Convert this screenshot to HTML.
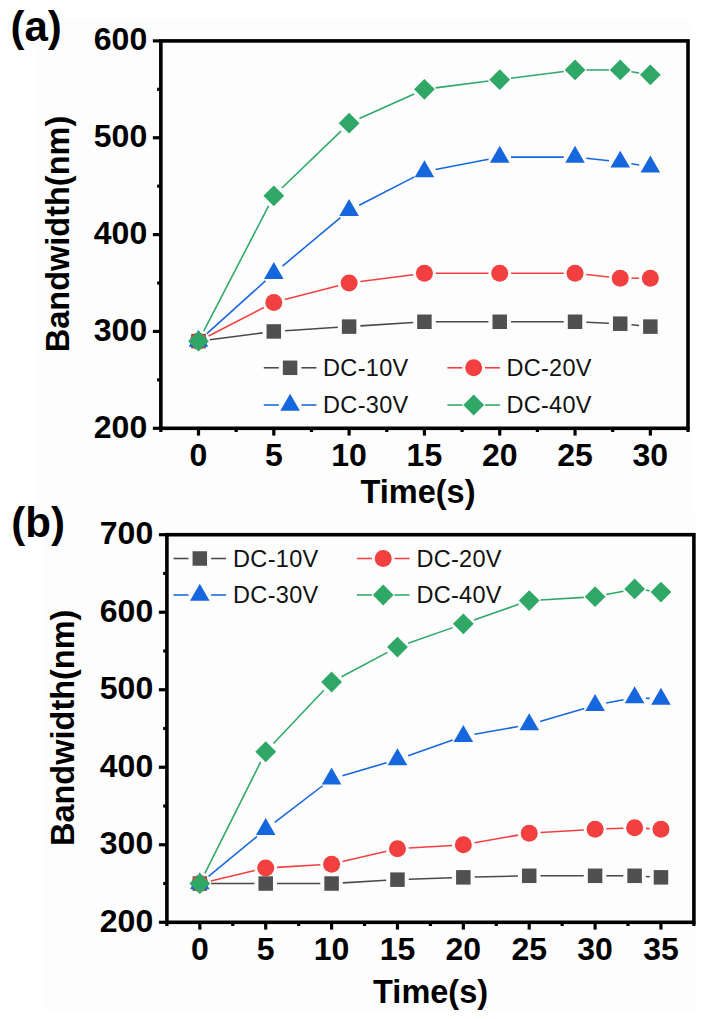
<!DOCTYPE html>
<html><head><meta charset="utf-8"><style>
html,body{margin:0;padding:0;background:#fff;}
body{width:709px;height:1019px;overflow:hidden;}
svg{display:block;}
text{font-family:"Liberation Sans",sans-serif;fill:#000;}
.tk{font-size:32px;font-weight:bold;}
.tt{font-size:32.5px;font-weight:bold;}
.pl{font-size:42px;font-weight:bold;}
.lg{font-size:23.5px;fill:#111;letter-spacing:0.3px;}
</style></head><body>
<svg width="709" height="1019" viewBox="0 0 709 1019">
<rect x="0" y="0" width="709" height="1019" fill="#ffffff"/>
<rect x="36" y="19" width="654" height="493" fill="#fdfdfd"/>
<rect x="43" y="512" width="653" height="499.5" fill="#fdfdfd"/>
<line x1="209.71" y1="339.69" x2="262.60" y2="332.89" stroke="#4a4a4a" stroke-width="1.55"/>
<line x1="285.09" y1="330.72" x2="337.84" y2="327.33" stroke="#4a4a4a" stroke-width="1.55"/>
<line x1="360.39" y1="325.88" x2="413.15" y2="322.49" stroke="#4a4a4a" stroke-width="1.55"/>
<line x1="435.72" y1="321.76" x2="488.43" y2="321.76" stroke="#4a4a4a" stroke-width="1.55"/>
<line x1="511.03" y1="321.76" x2="563.74" y2="321.76" stroke="#4a4a4a" stroke-width="1.55"/>
<line x1="586.33" y1="322.25" x2="608.93" y2="323.22" stroke="#4a4a4a" stroke-width="1.55"/>
<line x1="631.47" y1="324.79" x2="639.10" y2="325.52" stroke="#4a4a4a" stroke-width="1.55"/>
<line x1="208.55" y1="335.97" x2="263.76" y2="307.56" stroke="#f24040" stroke-width="1.55"/>
<line x1="284.75" y1="299.58" x2="338.17" y2="285.84" stroke="#f24040" stroke-width="1.55"/>
<line x1="360.33" y1="281.58" x2="413.22" y2="274.78" stroke="#f24040" stroke-width="1.55"/>
<line x1="435.72" y1="273.34" x2="488.43" y2="273.34" stroke="#f24040" stroke-width="1.55"/>
<line x1="511.03" y1="273.34" x2="563.74" y2="273.34" stroke="#f24040" stroke-width="1.55"/>
<line x1="586.27" y1="274.54" x2="608.99" y2="276.98" stroke="#f24040" stroke-width="1.55"/>
<line x1="631.52" y1="278.18" x2="639.05" y2="278.18" stroke="#f24040" stroke-width="1.55"/>
<line x1="206.90" y1="333.57" x2="265.41" y2="280.90" stroke="#1666dd" stroke-width="1.55"/>
<line x1="282.48" y1="266.09" x2="340.45" y2="217.63" stroke="#1666dd" stroke-width="1.55"/>
<line x1="359.17" y1="205.22" x2="414.38" y2="176.82" stroke="#1666dd" stroke-width="1.55"/>
<line x1="435.52" y1="169.51" x2="488.64" y2="159.26" stroke="#1666dd" stroke-width="1.55"/>
<line x1="511.03" y1="157.12" x2="563.74" y2="157.12" stroke="#1666dd" stroke-width="1.55"/>
<line x1="586.27" y1="158.32" x2="608.99" y2="160.76" stroke="#1666dd" stroke-width="1.55"/>
<line x1="631.38" y1="163.76" x2="639.19" y2="165.01" stroke="#1666dd" stroke-width="1.55"/>
<line x1="203.70" y1="331.10" x2="268.61" y2="205.89" stroke="#2fa867" stroke-width="1.55"/>
<line x1="281.94" y1="188.02" x2="340.98" y2="131.07" stroke="#2fa867" stroke-width="1.55"/>
<line x1="359.42" y1="118.58" x2="414.12" y2="93.96" stroke="#2fa867" stroke-width="1.55"/>
<line x1="435.63" y1="87.88" x2="488.52" y2="81.08" stroke="#2fa867" stroke-width="1.55"/>
<line x1="510.94" y1="78.20" x2="563.83" y2="71.40" stroke="#2fa867" stroke-width="1.55"/>
<line x1="586.34" y1="69.95" x2="608.92" y2="69.95" stroke="#2fa867" stroke-width="1.55"/>
<line x1="631.38" y1="71.75" x2="639.19" y2="73.00" stroke="#2fa867" stroke-width="1.55"/>
<rect x="191.25" y="333.88" width="14.50" height="14.50" fill="#505050"/>
<rect x="266.56" y="324.20" width="14.50" height="14.50" fill="#505050"/>
<rect x="341.87" y="319.36" width="14.50" height="14.50" fill="#505050"/>
<rect x="417.17" y="314.51" width="14.50" height="14.50" fill="#505050"/>
<rect x="492.48" y="314.51" width="14.50" height="14.50" fill="#505050"/>
<rect x="567.79" y="314.51" width="14.50" height="14.50" fill="#505050"/>
<rect x="612.97" y="316.45" width="14.50" height="14.50" fill="#505050"/>
<rect x="643.10" y="319.36" width="14.50" height="14.50" fill="#505050"/>
<circle cx="198.50" cy="341.13" r="8.50" fill="#f24040"/>
<circle cx="273.81" cy="302.39" r="8.50" fill="#f24040"/>
<circle cx="349.12" cy="283.02" r="8.50" fill="#f24040"/>
<circle cx="424.42" cy="273.34" r="8.50" fill="#f24040"/>
<circle cx="499.73" cy="273.34" r="8.50" fill="#f24040"/>
<circle cx="575.04" cy="273.34" r="8.50" fill="#f24040"/>
<circle cx="620.22" cy="278.18" r="8.50" fill="#f24040"/>
<circle cx="650.35" cy="278.18" r="8.50" fill="#f24040"/>
<polygon points="198.50,329.82 208.30,346.79 188.70,346.79" fill="#1666dd"/>
<polygon points="273.81,262.02 283.61,279.00 264.01,279.00" fill="#1666dd"/>
<polygon points="349.12,199.07 358.92,216.05 339.32,216.05" fill="#1666dd"/>
<polygon points="424.42,160.33 434.22,177.31 414.62,177.31" fill="#1666dd"/>
<polygon points="499.73,145.80 509.53,162.78 489.93,162.78" fill="#1666dd"/>
<polygon points="575.04,145.80 584.84,162.78 565.24,162.78" fill="#1666dd"/>
<polygon points="620.22,150.65 630.02,167.62 610.42,167.62" fill="#1666dd"/>
<polygon points="650.35,155.49 660.15,172.46 640.55,172.46" fill="#1666dd"/>
<polygon points="198.50,330.74 208.90,341.13 198.50,351.53 188.10,341.13" fill="#2fa867"/>
<polygon points="273.81,185.46 284.21,195.86 273.81,206.26 263.41,195.86" fill="#2fa867"/>
<polygon points="349.12,112.82 359.52,123.22 349.12,133.62 338.72,123.22" fill="#2fa867"/>
<polygon points="424.42,78.92 434.82,89.32 424.42,99.72 414.02,89.32" fill="#2fa867"/>
<polygon points="499.73,69.24 510.13,79.64 499.73,90.04 489.33,79.64" fill="#2fa867"/>
<polygon points="575.04,59.55 585.44,69.95 575.04,80.35 564.64,69.95" fill="#2fa867"/>
<polygon points="620.22,59.55 630.62,69.95 620.22,80.35 609.82,69.95" fill="#2fa867"/>
<polygon points="650.35,64.40 660.75,74.80 650.35,85.20 639.95,74.80" fill="#2fa867"/>
<rect x="160.85" y="40.90" width="527.15" height="387.40" fill="none" stroke="#000" stroke-width="3.6" stroke-linejoin="miter"/>
<line x1="152.85" y1="428.30" x2="160.85" y2="428.30" stroke="#000" stroke-width="3.2"/>
<line x1="157.15" y1="379.88" x2="160.85" y2="379.88" stroke="#000" stroke-width="3.2"/>
<line x1="152.85" y1="331.45" x2="160.85" y2="331.45" stroke="#000" stroke-width="3.2"/>
<line x1="157.15" y1="283.02" x2="160.85" y2="283.02" stroke="#000" stroke-width="3.2"/>
<line x1="152.85" y1="234.60" x2="160.85" y2="234.60" stroke="#000" stroke-width="3.2"/>
<line x1="157.15" y1="186.17" x2="160.85" y2="186.17" stroke="#000" stroke-width="3.2"/>
<line x1="152.85" y1="137.75" x2="160.85" y2="137.75" stroke="#000" stroke-width="3.2"/>
<line x1="157.15" y1="89.32" x2="160.85" y2="89.32" stroke="#000" stroke-width="3.2"/>
<line x1="152.85" y1="40.90" x2="160.85" y2="40.90" stroke="#000" stroke-width="3.2"/>
<line x1="160.85" y1="428.30" x2="160.85" y2="432.00" stroke="#000" stroke-width="3.2"/>
<line x1="198.50" y1="428.30" x2="198.50" y2="435.60" stroke="#000" stroke-width="3.2"/>
<line x1="236.16" y1="428.30" x2="236.16" y2="432.00" stroke="#000" stroke-width="3.2"/>
<line x1="273.81" y1="428.30" x2="273.81" y2="435.60" stroke="#000" stroke-width="3.2"/>
<line x1="311.46" y1="428.30" x2="311.46" y2="432.00" stroke="#000" stroke-width="3.2"/>
<line x1="349.12" y1="428.30" x2="349.12" y2="435.60" stroke="#000" stroke-width="3.2"/>
<line x1="386.77" y1="428.30" x2="386.77" y2="432.00" stroke="#000" stroke-width="3.2"/>
<line x1="424.42" y1="428.30" x2="424.42" y2="435.60" stroke="#000" stroke-width="3.2"/>
<line x1="462.08" y1="428.30" x2="462.08" y2="432.00" stroke="#000" stroke-width="3.2"/>
<line x1="499.73" y1="428.30" x2="499.73" y2="435.60" stroke="#000" stroke-width="3.2"/>
<line x1="537.39" y1="428.30" x2="537.39" y2="432.00" stroke="#000" stroke-width="3.2"/>
<line x1="575.04" y1="428.30" x2="575.04" y2="435.60" stroke="#000" stroke-width="3.2"/>
<line x1="612.69" y1="428.30" x2="612.69" y2="432.00" stroke="#000" stroke-width="3.2"/>
<line x1="650.35" y1="428.30" x2="650.35" y2="435.60" stroke="#000" stroke-width="3.2"/>
<line x1="688.00" y1="428.30" x2="688.00" y2="432.00" stroke="#000" stroke-width="3.2"/>
<text x="147.20" y="437.60" text-anchor="end" class="tk">200</text>
<text x="147.20" y="340.75" text-anchor="end" class="tk">300</text>
<text x="147.20" y="243.90" text-anchor="end" class="tk">400</text>
<text x="147.20" y="147.05" text-anchor="end" class="tk">500</text>
<text x="147.20" y="50.20" text-anchor="end" class="tk">600</text>
<text x="198.50" y="466.20" text-anchor="middle" class="tk">0</text>
<text x="273.81" y="466.20" text-anchor="middle" class="tk">5</text>
<text x="349.12" y="466.20" text-anchor="middle" class="tk">10</text>
<text x="424.42" y="466.20" text-anchor="middle" class="tk">15</text>
<text x="499.73" y="466.20" text-anchor="middle" class="tk">20</text>
<text x="575.04" y="466.20" text-anchor="middle" class="tk">25</text>
<text x="650.35" y="466.20" text-anchor="middle" class="tk">30</text>
<text x="418.00" y="502.60" text-anchor="middle" class="tt">Time(s)</text>
<text transform="translate(68.50,234.00) rotate(-90)" x="0" y="0" text-anchor="middle" class="tt">Bandwidth(nm)</text>
<text x="10.50" y="40.60" class="pl">(a)</text>
<line x1="263.80" y1="367.80" x2="278.80" y2="367.80" stroke="#4a4a4a" stroke-width="1.55"/>
<line x1="301.40" y1="367.80" x2="316.40" y2="367.80" stroke="#4a4a4a" stroke-width="1.55"/>
<rect x="282.85" y="360.55" width="14.50" height="14.50" fill="#505050"/>
<text x="323.10" y="375.80" class="lg">DC-10V</text>
<line x1="447.40" y1="367.80" x2="462.40" y2="367.80" stroke="#f24040" stroke-width="1.55"/>
<line x1="485.00" y1="367.80" x2="500.00" y2="367.80" stroke="#f24040" stroke-width="1.55"/>
<circle cx="473.70" cy="367.80" r="8.50" fill="#f24040"/>
<text x="506.40" y="375.80" class="lg">DC-20V</text>
<line x1="263.80" y1="405.00" x2="278.80" y2="405.00" stroke="#1666dd" stroke-width="1.55"/>
<line x1="301.40" y1="405.00" x2="316.40" y2="405.00" stroke="#1666dd" stroke-width="1.55"/>
<polygon points="290.10,393.68 299.90,410.66 280.30,410.66" fill="#1666dd"/>
<text x="323.10" y="413.00" class="lg">DC-30V</text>
<line x1="447.40" y1="405.00" x2="462.40" y2="405.00" stroke="#2fa867" stroke-width="1.55"/>
<line x1="485.00" y1="405.00" x2="500.00" y2="405.00" stroke="#2fa867" stroke-width="1.55"/>
<polygon points="473.70,394.60 484.10,405.00 473.70,415.40 463.30,405.00" fill="#2fa867"/>
<text x="506.40" y="413.00" class="lg">DC-40V</text>
<line x1="211.14" y1="883.54" x2="254.41" y2="883.54" stroke="#4a4a4a" stroke-width="1.55"/>
<line x1="277.01" y1="883.54" x2="320.29" y2="883.54" stroke="#4a4a4a" stroke-width="1.55"/>
<line x1="342.87" y1="882.88" x2="386.18" y2="880.33" stroke="#4a4a4a" stroke-width="1.55"/>
<line x1="408.76" y1="879.27" x2="452.04" y2="877.74" stroke="#4a4a4a" stroke-width="1.55"/>
<line x1="474.63" y1="877.07" x2="517.92" y2="876.05" stroke="#4a4a4a" stroke-width="1.55"/>
<line x1="540.51" y1="875.79" x2="583.79" y2="875.79" stroke="#4a4a4a" stroke-width="1.55"/>
<line x1="606.39" y1="875.79" x2="623.31" y2="875.79" stroke="#4a4a4a" stroke-width="1.55"/>
<line x1="645.89" y1="876.45" x2="649.68" y2="876.67" stroke="#4a4a4a" stroke-width="1.55"/>
<line x1="210.84" y1="880.95" x2="254.71" y2="870.62" stroke="#f24040" stroke-width="1.55"/>
<line x1="276.99" y1="867.37" x2="320.31" y2="864.82" stroke="#f24040" stroke-width="1.55"/>
<line x1="342.59" y1="861.57" x2="386.46" y2="851.24" stroke="#f24040" stroke-width="1.55"/>
<line x1="408.74" y1="847.99" x2="452.06" y2="845.44" stroke="#f24040" stroke-width="1.55"/>
<line x1="474.47" y1="842.82" x2="518.08" y2="835.12" stroke="#f24040" stroke-width="1.55"/>
<line x1="540.49" y1="832.49" x2="583.81" y2="829.94" stroke="#f24040" stroke-width="1.55"/>
<line x1="606.38" y1="828.83" x2="623.32" y2="828.17" stroke="#f24040" stroke-width="1.55"/>
<line x1="645.89" y1="828.39" x2="649.68" y2="828.61" stroke="#f24040" stroke-width="1.55"/>
<line x1="208.56" y1="876.36" x2="256.99" y2="836.46" stroke="#1666dd" stroke-width="1.55"/>
<line x1="274.69" y1="822.41" x2="322.61" y2="785.75" stroke="#1666dd" stroke-width="1.55"/>
<line x1="342.43" y1="775.70" x2="386.62" y2="762.70" stroke="#1666dd" stroke-width="1.55"/>
<line x1="408.12" y1="755.75" x2="452.68" y2="740.01" stroke="#1666dd" stroke-width="1.55"/>
<line x1="474.47" y1="734.29" x2="518.08" y2="726.59" stroke="#1666dd" stroke-width="1.55"/>
<line x1="540.05" y1="721.43" x2="584.25" y2="708.43" stroke="#1666dd" stroke-width="1.55"/>
<line x1="606.18" y1="703.07" x2="623.52" y2="699.67" stroke="#1666dd" stroke-width="1.55"/>
<line x1="645.89" y1="698.16" x2="649.68" y2="698.38" stroke="#1666dd" stroke-width="1.55"/>
<line x1="204.89" y1="873.43" x2="260.66" y2="761.86" stroke="#2fa867" stroke-width="1.55"/>
<line x1="273.47" y1="743.54" x2="323.83" y2="690.20" stroke="#2fa867" stroke-width="1.55"/>
<line x1="341.57" y1="676.70" x2="387.48" y2="652.39" stroke="#2fa867" stroke-width="1.55"/>
<line x1="408.12" y1="643.34" x2="452.68" y2="627.61" stroke="#2fa867" stroke-width="1.55"/>
<line x1="473.99" y1="620.09" x2="518.56" y2="604.35" stroke="#2fa867" stroke-width="1.55"/>
<line x1="540.49" y1="599.93" x2="583.81" y2="597.38" stroke="#2fa867" stroke-width="1.55"/>
<line x1="606.18" y1="594.54" x2="623.52" y2="591.14" stroke="#2fa867" stroke-width="1.55"/>
<line x1="645.84" y1="590.28" x2="649.74" y2="590.74" stroke="#2fa867" stroke-width="1.55"/>
<rect x="192.59" y="876.29" width="14.50" height="14.50" fill="#505050"/>
<rect x="258.46" y="876.29" width="14.50" height="14.50" fill="#505050"/>
<rect x="324.34" y="876.29" width="14.50" height="14.50" fill="#505050"/>
<rect x="390.21" y="872.41" width="14.50" height="14.50" fill="#505050"/>
<rect x="456.09" y="870.09" width="14.50" height="14.50" fill="#505050"/>
<rect x="521.96" y="868.54" width="14.50" height="14.50" fill="#505050"/>
<rect x="587.84" y="868.54" width="14.50" height="14.50" fill="#505050"/>
<rect x="627.36" y="868.54" width="14.50" height="14.50" fill="#505050"/>
<rect x="653.71" y="870.09" width="14.50" height="14.50" fill="#505050"/>
<circle cx="199.84" cy="883.54" r="8.50" fill="#f24040"/>
<circle cx="265.71" cy="868.04" r="8.50" fill="#f24040"/>
<circle cx="331.59" cy="864.16" r="8.50" fill="#f24040"/>
<circle cx="397.46" cy="848.66" r="8.50" fill="#f24040"/>
<circle cx="463.34" cy="844.78" r="8.50" fill="#f24040"/>
<circle cx="529.21" cy="833.15" r="8.50" fill="#f24040"/>
<circle cx="595.09" cy="829.28" r="8.50" fill="#f24040"/>
<circle cx="634.61" cy="827.73" r="8.50" fill="#f24040"/>
<circle cx="660.96" cy="829.28" r="8.50" fill="#f24040"/>
<polygon points="199.84,872.22 209.64,889.20 190.04,889.20" fill="#1666dd"/>
<polygon points="265.71,817.96 275.51,834.93 255.91,834.93" fill="#1666dd"/>
<polygon points="331.59,767.57 341.39,784.55 321.79,784.55" fill="#1666dd"/>
<polygon points="397.46,748.19 407.26,765.17 387.66,765.17" fill="#1666dd"/>
<polygon points="463.34,724.94 473.14,741.91 453.54,741.91" fill="#1666dd"/>
<polygon points="529.21,713.31 539.01,730.28 519.41,730.28" fill="#1666dd"/>
<polygon points="595.09,693.93 604.89,710.90 585.29,710.90" fill="#1666dd"/>
<polygon points="634.61,686.18 644.41,703.15 624.81,703.15" fill="#1666dd"/>
<polygon points="660.96,687.73 670.76,704.70 651.16,704.70" fill="#1666dd"/>
<polygon points="199.84,873.14 210.24,883.54 199.84,893.94 189.44,883.54" fill="#2fa867"/>
<polygon points="265.71,741.36 276.11,751.76 265.71,762.16 255.31,751.76" fill="#2fa867"/>
<polygon points="331.59,671.59 341.99,681.99 331.59,692.39 321.19,681.99" fill="#2fa867"/>
<polygon points="397.46,636.70 407.86,647.10 397.46,657.50 387.06,647.10" fill="#2fa867"/>
<polygon points="463.34,613.45 473.74,623.85 463.34,634.25 452.94,623.85" fill="#2fa867"/>
<polygon points="529.21,590.19 539.61,600.59 529.21,610.99 518.81,600.59" fill="#2fa867"/>
<polygon points="595.09,586.32 605.49,596.72 595.09,607.12 584.69,596.72" fill="#2fa867"/>
<polygon points="634.61,578.56 645.01,588.96 634.61,599.36 624.21,588.96" fill="#2fa867"/>
<polygon points="660.96,581.66 671.36,592.06 660.96,602.46 650.56,592.06" fill="#2fa867"/>
<rect x="166.90" y="534.70" width="527.00" height="387.60" fill="none" stroke="#000" stroke-width="3.6" stroke-linejoin="miter"/>
<line x1="158.90" y1="922.30" x2="166.90" y2="922.30" stroke="#000" stroke-width="3.2"/>
<line x1="163.20" y1="883.54" x2="166.90" y2="883.54" stroke="#000" stroke-width="3.2"/>
<line x1="158.90" y1="844.78" x2="166.90" y2="844.78" stroke="#000" stroke-width="3.2"/>
<line x1="163.20" y1="806.02" x2="166.90" y2="806.02" stroke="#000" stroke-width="3.2"/>
<line x1="158.90" y1="767.26" x2="166.90" y2="767.26" stroke="#000" stroke-width="3.2"/>
<line x1="163.20" y1="728.50" x2="166.90" y2="728.50" stroke="#000" stroke-width="3.2"/>
<line x1="158.90" y1="689.74" x2="166.90" y2="689.74" stroke="#000" stroke-width="3.2"/>
<line x1="163.20" y1="650.98" x2="166.90" y2="650.98" stroke="#000" stroke-width="3.2"/>
<line x1="158.90" y1="612.22" x2="166.90" y2="612.22" stroke="#000" stroke-width="3.2"/>
<line x1="163.20" y1="573.46" x2="166.90" y2="573.46" stroke="#000" stroke-width="3.2"/>
<line x1="158.90" y1="534.70" x2="166.90" y2="534.70" stroke="#000" stroke-width="3.2"/>
<line x1="166.90" y1="922.30" x2="166.90" y2="926.00" stroke="#000" stroke-width="3.2"/>
<line x1="199.84" y1="922.30" x2="199.84" y2="929.60" stroke="#000" stroke-width="3.2"/>
<line x1="232.78" y1="922.30" x2="232.78" y2="926.00" stroke="#000" stroke-width="3.2"/>
<line x1="265.71" y1="922.30" x2="265.71" y2="929.60" stroke="#000" stroke-width="3.2"/>
<line x1="298.65" y1="922.30" x2="298.65" y2="926.00" stroke="#000" stroke-width="3.2"/>
<line x1="331.59" y1="922.30" x2="331.59" y2="929.60" stroke="#000" stroke-width="3.2"/>
<line x1="364.52" y1="922.30" x2="364.52" y2="926.00" stroke="#000" stroke-width="3.2"/>
<line x1="397.46" y1="922.30" x2="397.46" y2="929.60" stroke="#000" stroke-width="3.2"/>
<line x1="430.40" y1="922.30" x2="430.40" y2="926.00" stroke="#000" stroke-width="3.2"/>
<line x1="463.34" y1="922.30" x2="463.34" y2="929.60" stroke="#000" stroke-width="3.2"/>
<line x1="496.27" y1="922.30" x2="496.27" y2="926.00" stroke="#000" stroke-width="3.2"/>
<line x1="529.21" y1="922.30" x2="529.21" y2="929.60" stroke="#000" stroke-width="3.2"/>
<line x1="562.15" y1="922.30" x2="562.15" y2="926.00" stroke="#000" stroke-width="3.2"/>
<line x1="595.09" y1="922.30" x2="595.09" y2="929.60" stroke="#000" stroke-width="3.2"/>
<line x1="628.02" y1="922.30" x2="628.02" y2="926.00" stroke="#000" stroke-width="3.2"/>
<line x1="660.96" y1="922.30" x2="660.96" y2="929.60" stroke="#000" stroke-width="3.2"/>
<line x1="693.90" y1="922.30" x2="693.90" y2="926.00" stroke="#000" stroke-width="3.2"/>
<text x="153.20" y="931.60" text-anchor="end" class="tk">200</text>
<text x="153.20" y="854.08" text-anchor="end" class="tk">300</text>
<text x="153.20" y="776.56" text-anchor="end" class="tk">400</text>
<text x="153.20" y="699.04" text-anchor="end" class="tk">500</text>
<text x="153.20" y="621.52" text-anchor="end" class="tk">600</text>
<text x="153.20" y="544.00" text-anchor="end" class="tk">700</text>
<text x="199.84" y="960.40" text-anchor="middle" class="tk">0</text>
<text x="265.71" y="960.40" text-anchor="middle" class="tk">5</text>
<text x="331.59" y="960.40" text-anchor="middle" class="tk">10</text>
<text x="397.46" y="960.40" text-anchor="middle" class="tk">15</text>
<text x="463.34" y="960.40" text-anchor="middle" class="tk">20</text>
<text x="529.21" y="960.40" text-anchor="middle" class="tk">25</text>
<text x="595.09" y="960.40" text-anchor="middle" class="tk">30</text>
<text x="660.96" y="960.40" text-anchor="middle" class="tk">35</text>
<text x="430.60" y="1003.30" text-anchor="middle" class="tt">Time(s)</text>
<text transform="translate(74.30,727.80) rotate(-90)" x="0" y="0" text-anchor="middle" class="tt">Bandwidth(nm)</text>
<text x="11.30" y="536.70" class="pl">(b)</text>
<line x1="173.50" y1="558.50" x2="188.50" y2="558.50" stroke="#4a4a4a" stroke-width="1.55"/>
<line x1="211.10" y1="558.50" x2="226.10" y2="558.50" stroke="#4a4a4a" stroke-width="1.55"/>
<rect x="192.55" y="551.25" width="14.50" height="14.50" fill="#505050"/>
<text x="233.10" y="566.50" class="lg">DC-10V</text>
<line x1="356.90" y1="558.50" x2="371.90" y2="558.50" stroke="#f24040" stroke-width="1.55"/>
<line x1="394.50" y1="558.50" x2="409.50" y2="558.50" stroke="#f24040" stroke-width="1.55"/>
<circle cx="383.20" cy="558.50" r="8.50" fill="#f24040"/>
<text x="416.40" y="566.50" class="lg">DC-20V</text>
<line x1="173.50" y1="595.00" x2="188.50" y2="595.00" stroke="#1666dd" stroke-width="1.55"/>
<line x1="211.10" y1="595.00" x2="226.10" y2="595.00" stroke="#1666dd" stroke-width="1.55"/>
<polygon points="199.80,583.68 209.60,600.66 190.00,600.66" fill="#1666dd"/>
<text x="233.10" y="603.00" class="lg">DC-30V</text>
<line x1="356.90" y1="595.00" x2="371.90" y2="595.00" stroke="#2fa867" stroke-width="1.55"/>
<line x1="394.50" y1="595.00" x2="409.50" y2="595.00" stroke="#2fa867" stroke-width="1.55"/>
<polygon points="383.20,584.60 393.60,595.00 383.20,605.40 372.80,595.00" fill="#2fa867"/>
<text x="416.40" y="603.00" class="lg">DC-40V</text>
</svg>
</body></html>
